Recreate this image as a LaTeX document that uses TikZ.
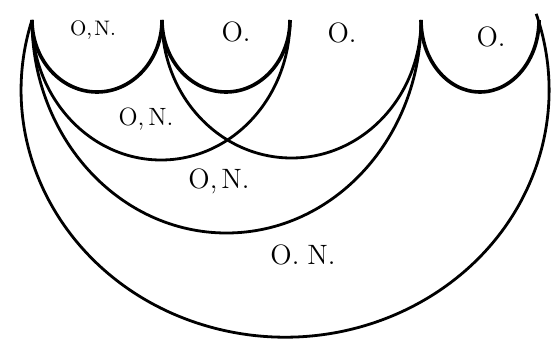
\documentclass[tikz,border=0pt]{standalone}
\usetikzlibrary{calc}
\begin{document}
\begin{tikzpicture}[x=0.5pt,y=0.5pt,
    bow/.style={line width=1.4pt},
    cup/.style={line width=1.8pt},
    bigtxt/.style={font=\fontsize{14}{15}\selectfont, inner sep=0pt, anchor=base},
    midtxt/.style={font=\fontsize{14}{15}\selectfont, inner sep=0pt, anchor=base},
    smalltxt/.style={font=\fontsize{10.5}{11}\selectfont, inner sep=0pt, anchor=base}]
    \useasboundingbox (0,0) rectangle (560,338);
    % tips along the top
    \coordinate (p1) at (32,318);
    \coordinate (p2) at (162,318);
    \coordinate (p3) at (290,318);
    \coordinate (p4) at (421,318);
    \coordinate (p5) at (539,318);
    % the three small cups
    \draw[cup] (p1) arc[start angle=180, end angle=360, x radius=65, y radius=72];
    \draw[cup] (p2) arc[start angle=180, end angle=360, x radius=64, y radius=72];
    \draw[cup] (p4) arc[start angle=180, end angle=360, x radius=59, y radius=72];
    % the larger arcs
    \draw[bow] (p1) arc[start angle=180, end angle=360, x radius=129, y radius=140];
    \draw[bow] (p2) arc[start angle=180, end angle=360, x radius=129.5, y radius=138];
    \draw[bow] (p1) arc[start angle=180, end angle=360, x radius=194.5, y radius=213];
    \draw[bow] (p1) arc[start angle=163.5, end angle=378, x radius=264, y radius=247];
    % labels
    \node[smalltxt] (on1) at (93,302) {O,\kern1pt N.};
    \node[bigtxt] (o1) at (236,296) {O.};
    \node[bigtxt] (o2) at (342,295) {O.};
    \node[bigtxt] (o3) at (491,292) {O.};
    \node[midtxt, font=\fontsize{12.5}{13}\selectfont] (on2) at (146,213) {O,\kern2pt N.};
    \node[midtxt] (on3) at (219,150) {O,\kern2pt N.};
    \node[midtxt] (on4) at (303,74) {O.\kern4pt N.};
\end{tikzpicture}
\end{document}
